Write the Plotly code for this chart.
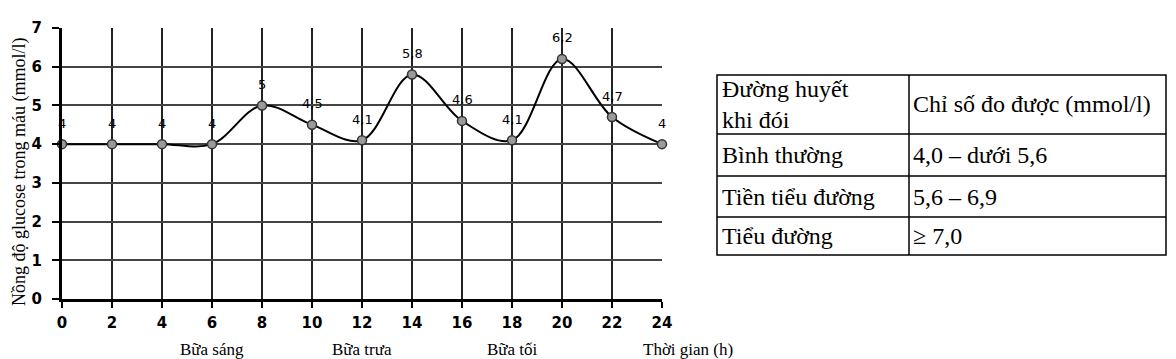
import plotly.graph_objects as go

# ---- data ----
hours = [0, 2, 4, 6, 8, 10, 12, 14, 16, 18, 20, 22, 24]
glucose = [4, 4, 4, 4, 5, 4.5, 4.1, 5.8, 4.6, 4.1, 6.2, 4.7, 4]
glucose_labels = ["4", "4", "4", "4", "5", "4,5", "4,1", "5,8", "4,6", "4,1", "6,2", "4,7", "4"]
x_ticks = list(range(0, 25, 2))
y_ticks = list(range(0, 8))
meal_hours = [6, 12, 18]
meal_names = ["Bữa sáng", "Bữa trưa", "Bữa tối"]

table_header = ["Đường huyết<br>khi đói", "Chỉ số đo được (mmol/l)"]
table_col1 = ["Bình thường", "Tiền tiểu đường", "Tiểu đường"]
table_col2 = ["4,0 – dưới 5,6", "5,6 – 6,9", "≥ 7,0"]

# page has an 8px body margin; layout numbers below are in page pixels
OFF = 8
W, H = 1176 - OFF, 359 - OFF
PL, PR, PT, PB = 62, 662, 28, 299   # plot area in page pixels
PW, PH = PR - PL, PB - PT

def px(p):  # page pixel -> paper x
    return (p - PL) / PW

def py(p):  # page pixel -> paper y
    return (PB - p) / PH

fig = go.Figure()
fig.add_trace(go.Scatter(
    x=hours, y=glucose, mode="lines+markers",
    line=dict(color="black", width=2, shape="spline", smoothing=1),
    marker=dict(size=9, color="#9a9a9a", line=dict(color="#333", width=1.5)),
    cliponaxis=False, showlegend=False,
))

fig.update_xaxes(
    range=[0, 24], tickvals=x_ticks, ticktext=[str(v) for v in x_ticks],
    showgrid=True, gridcolor="#222", gridwidth=1.5,
    showline=True, linecolor="black", linewidth=3,
    ticks="outside", ticklen=6, tickwidth=2, tickcolor="black",
    ticklabelstandoff=2,
    tickfont=dict(family="DejaVu Sans", size=15, color="black", weight="bold"),
    zeroline=False, fixedrange=True, automargin=False,
)
fig.update_yaxes(
    range=[0, 7], tickvals=y_ticks, ticktext=[str(v) for v in y_ticks],
    showgrid=True, gridcolor="#444", gridwidth=1.5,
    showline=True, linecolor="black", linewidth=3,
    ticks="outside", ticklen=7, tickwidth=2, tickcolor="black",
    ticklabelstandoff=7,
    tickfont=dict(family="DejaVu Sans", size=15, color="black", weight="bold"),
    zeroline=False, fixedrange=True, automargin=False,
)

annotations = []
# data labels above each point
for h, g, lab in zip(hours, glucose, glucose_labels):
    annotations.append(dict(
        text=lab, x=h, y=g, xref="x", yref="y", yshift=21,
        xanchor="center", yanchor="middle", showarrow=False,
        font=dict(family="DejaVu Sans", size=13, color="black"),
    ))

sfont = dict(family="Liberation Serif", size=17, color="black")
# y-axis title
annotations.append(dict(
    text="Nồng độ glucose trong máu (mmol/l)", textangle=-90,
    xref="paper", yref="paper", x=px(19), y=py(172),
    xanchor="center", yanchor="middle",
    showarrow=False, font=dict(family="Liberation Serif", size=18, color="black"),
))
# meal labels
for h, name in zip(meal_hours, meal_names):
    annotations.append(dict(
        text=name, xref="x", yref="paper", x=h, y=py(349),
        xanchor="center", yanchor="middle",
        showarrow=False, font=sfont,
    ))
annotations.append(dict(
    text="Thời gian (h)", xref="paper", yref="paper", x=px(688), y=py(349),
    xanchor="center", yanchor="middle",
    showarrow=False, font=sfont,
))

# table
tx0, tx1, tx2 = 717, 909, 1166
rows_y = [75, 134, 176, 217, 255]
shapes = []
line = dict(color="black", width=1.5)
shapes.append(dict(type="rect", xref="paper", yref="paper",
                   x0=px(tx0), x1=px(tx2), y0=py(rows_y[0]), y1=py(rows_y[-1]), line=line))
shapes.append(dict(type="line", xref="paper", yref="paper",
                   x0=px(tx1), x1=px(tx1), y0=py(rows_y[0]), y1=py(rows_y[-1]), line=line))
for ry in rows_y[1:-1]:
    shapes.append(dict(type="line", xref="paper", yref="paper",
                       x0=px(tx0), x1=px(tx2), y0=py(ry), y1=py(ry), line=line))

tfont = dict(family="Liberation Serif", size=24, color="black")
cell_texts = [table_header] + [[a, b] for a, b in zip(table_col1, table_col2)]
for i, (a, b) in enumerate(cell_texts):
    yc = (rows_y[i] + rows_y[i + 1]) / 2
    annotations.append(dict(text=a, xref="paper", yref="paper", x=px(tx0 + 3), y=py(yc),
                            xanchor="left", yanchor="middle", align="left",
                            showarrow=False, font=tfont))
    annotations.append(dict(text=b, xref="paper", yref="paper", x=px(tx1 + 2), y=py(yc),
                            xanchor="left", yanchor="middle", align="left",
                            showarrow=False, font=tfont))

fig.update_layout(
    width=W, height=H,
    margin=dict(l=PL - OFF, r=W - (PR - OFF), t=PT - OFF, b=H - (PB - OFF), autoexpand=False),
    paper_bgcolor="white", plot_bgcolor="white",
    annotations=annotations, shapes=shapes, showlegend=False,
)
fig.write_html("out.html")
